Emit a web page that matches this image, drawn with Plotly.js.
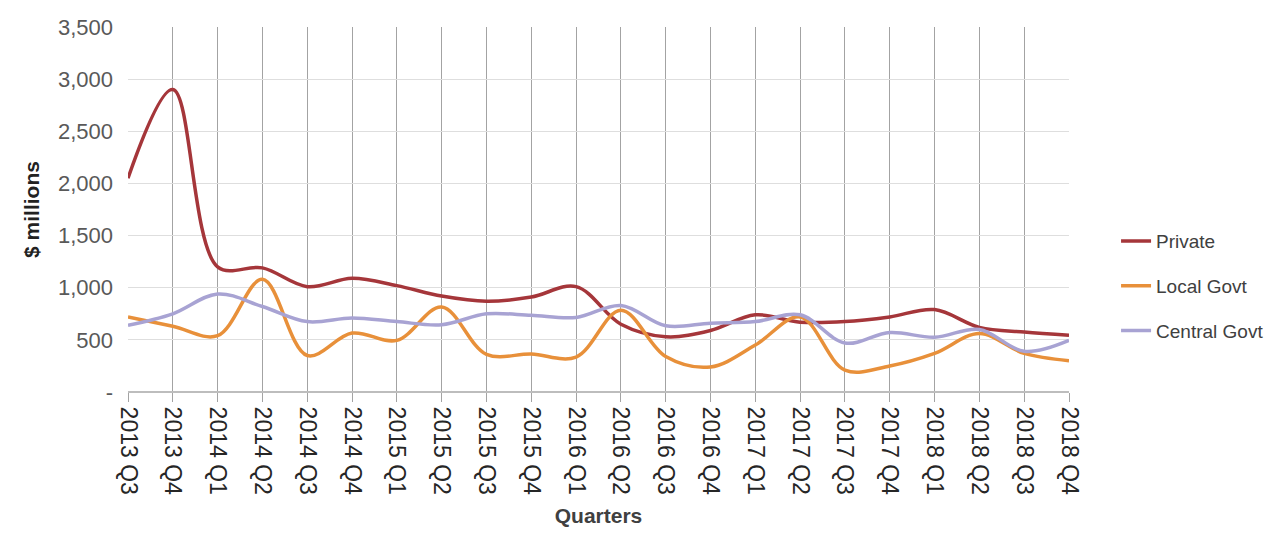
<!DOCTYPE html>
<html>
<head>
<meta charset="utf-8">
<script src="https://cdn.plot.ly/plotly-3.0.1.min.js"></script>
<style>
  body { margin: 0; background: #fff; }
  #chart { width: 1281px; height: 536px; }
</style>
</head>
<body>
<div id="chart"></div>
<script>
var quarters = ["2013 Q3", "2013 Q4", "2014 Q1", "2014 Q2", "2014 Q3", "2014 Q4",
  "2015 Q1", "2015 Q2", "2015 Q3", "2015 Q4", "2016 Q1", "2016 Q2", "2016 Q3",
  "2016 Q4", "2017 Q1", "2017 Q2", "2017 Q3", "2017 Q4", "2018 Q1", "2018 Q2",
  "2018 Q3", "2018 Q4"];

var privateVals = [2050, 2900, 1200, 1190, 1010, 1090, 1020, 920, 870, 910, 1010,
  650, 530, 590, 740, 670, 675, 720, 790, 620, 575, 545];
var localVals = [720, 630, 540, 1080, 350, 565, 495, 815, 360, 365, 335,
  785, 340, 240, 450, 720, 210, 250, 370, 560, 370, 300];
var centralVals = [640, 750, 940, 820, 675, 710, 675, 645, 750, 735, 715,
  830, 635, 660, 675, 740, 470, 570, 525, 600, 390, 495];

var yTickVals = [0, 500, 1000, 1500, 2000, 2500, 3000, 3500];
var yTickText = ["-", "500", "1,000", "1,500", "2,000", "2,500", "3,000", "3,500"];

var FONT = "Liberation Sans, Arial, sans-serif";

function series(name, vals, color) {
  return {
    x: quarters,
    y: vals,
    name: name,
    legendgroup: name,
    type: "scatter",
    mode: "lines",
    line: {color: color, width: 3.5, shape: "spline", smoothing: 1},
    hoverinfo: "skip"
  };
}

var data = [
  series("Private", privateVals, "#a5363a"),
  series("Local Govt", localVals, "#e8903a"),
  series("Central Govt", centralVals, "#a8a3d3")
];

var layout = {
  width: 1281,
  height: 536,
  margin: {l: 128, r: 210, t: 27, b: 144},
  paper_bgcolor: "#fff",
  plot_bgcolor: "#fff",
  font: {family: FONT, color: "#404040"},
  showlegend: true,
  legend: {
    x: 1.05, y: 0.29, yanchor: "middle", xanchor: "left",
    font: {size: 19, color: "#404040"},
    tracegroupgap: 17
  },
  xaxis: {
    type: "category",
    range: [0, 21],
    tickangle: 90,
    tickfont: {size: 23, color: "#262626"},
    showgrid: true,
    gridcolor: "#a3a3a3",
    gridwidth: 1,
    ticks: "outside",
    ticklen: 9,
    tickcolor: "#a3a3a3",
    showline: false,
    title: {text: "<b>Quarters</b>", font: {size: 21, color: "#404040"}, standoff: 14}
  },
  yaxis: {
    range: [0, 3500],
    tickvals: yTickVals,
    ticktext: yTickText,
    tickfont: {size: 22, color: "#595959"},
    ticklabelstandoff: 14,
    showgrid: true,
    gridcolor: "#dedede",
    zeroline: true,
    zerolinecolor: "#bdbdbd",
    zerolinewidth: 2,
    title: {text: "<b>$ millions</b>", font: {size: 21, color: "#222"}, standoff: 12}
  }
};

Plotly.newPlot("chart", data, layout, {displayModeBar: false, staticPlot: true});
</script>
</body>
</html>
